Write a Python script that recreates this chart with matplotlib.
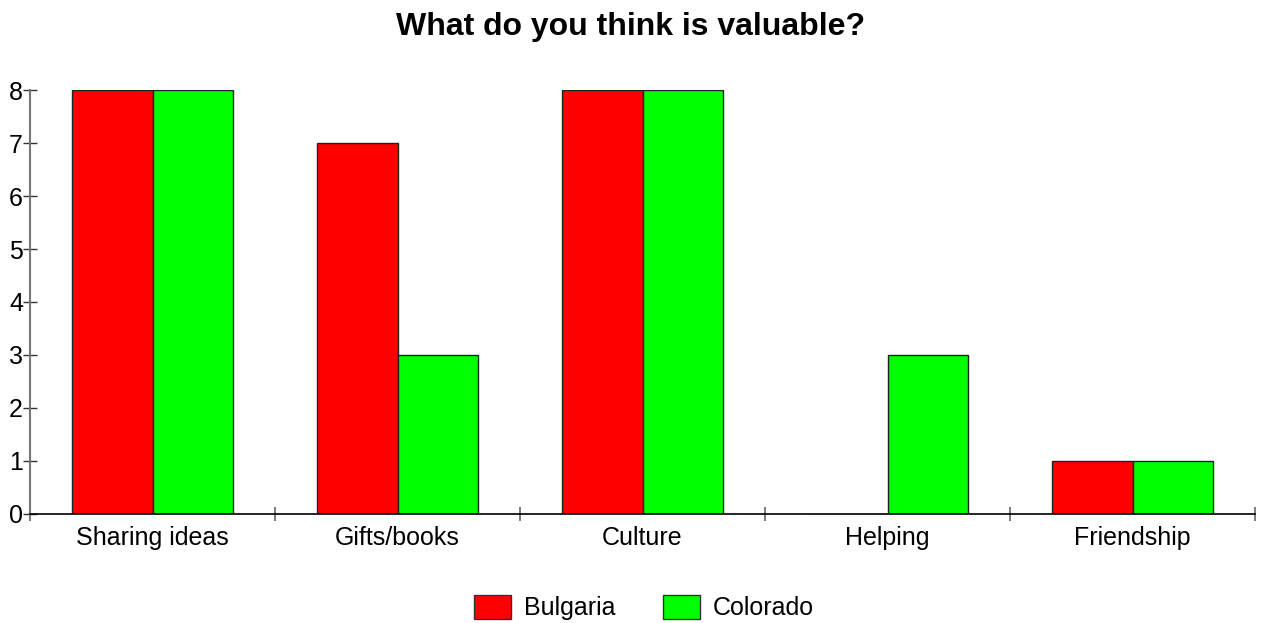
import matplotlib
matplotlib.use("Agg")
import matplotlib.pyplot as plt
import numpy as np
from matplotlib.patches import Patch

categories = ["Sharing ideas", "Gifts/books", "Culture", "Helping", "Friendship"]
bulgaria = [8, 7, 8, 0, 1]
colorado = [8, 3, 8, 3, 1]
yticks = [0, 1, 2, 3, 4, 5, 6, 7, 8]

plt.rcParams['font.family'] = ['Liberation Sans', 'DejaVu Sans']

fig = plt.figure(figsize=(12.62, 6.23), dpi=100)
ax = fig.add_axes([0.0238, 0.175, 0.9707, 0.6805])

x = np.arange(len(categories))
w = 0.33
ax.bar(x - w/2, bulgaria, width=w, color="#ff0000", edgecolor="#222222", linewidth=1)
ax.bar(x + w/2, colorado, width=w, color="#00ff00", edgecolor="#222222", linewidth=1)

ax.set_xlim(-0.5, len(categories) - 0.5)
ax.set_ylim(0, 8)
ax.set_yticks(yticks)
ax.set_xticks(x)
ax.set_xticklabels(categories, fontsize=18)
ax.tick_params(axis='x', length=0, pad=9)
ax.set_xticks(np.arange(-0.5, len(categories)), minor=True)
ax.tick_params(axis='x', which='minor', length=10, direction='inout', color='#666666', width=1.2)
ax.tick_params(axis='y', labelsize=18, direction='inout', length=10, width=1, color='#333333', pad=0)

for s in ['top', 'right']:
    ax.spines[s].set_visible(False)
ax.spines['left'].set_color('#777777')
ax.spines['left'].set_linewidth(1.5)
ax.spines['bottom'].set_color('black')
ax.spines['bottom'].set_linewidth(1.2)

fig.suptitle("What do you think is valuable?", fontsize=23, fontweight='bold', y=0.98)

handles = [Patch(facecolor="#ff0000", edgecolor="#333333", label="Bulgaria"),
           Patch(facecolor="#00ff00", edgecolor="#333333", label="Colorado")]
fig.legend(handles=handles, loc='lower center', bbox_to_anchor=(0.51, -0.032), ncol=2,
           frameon=False, fontsize=18, handlelength=1.5, handleheight=1.15,
           handletextpad=0.5, columnspacing=1.9)

fig.savefig("out.png", dpi=100)
